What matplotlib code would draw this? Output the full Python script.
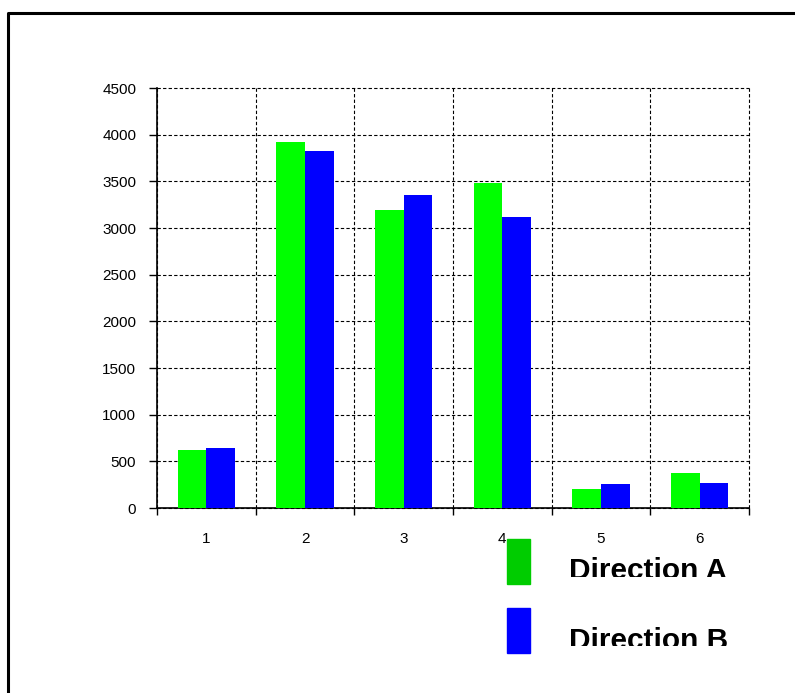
import matplotlib
matplotlib.use("Agg")
import matplotlib.pyplot as plt
import numpy as np
from matplotlib.patches import Rectangle
from matplotlib.lines import Line2D
from matplotlib.transforms import Bbox, TransformedBbox

plt.rcParams['font.family'] = ['Liberation Sans', 'DejaVu Sans']

categories = ['1', '2', '3', '4', '5', '6']
dir_a = [620, 3925, 3190, 3480, 200, 380]
dir_b = [645, 3830, 3355, 3115, 255, 265]
series_names = ['Direction A', 'Direction B']

W, H = 795, 693
fig = plt.figure(figsize=(W / 100, H / 100), dpi=100)
ax = fig.add_axes([157 / W, 1 - 508 / H, 592 / W, 420 / H])

x = np.arange(1, len(categories) + 1)
bw = 0.29
ax.bar(x - bw / 2, dir_a, bw, color='#00ff00', zorder=3)
ax.bar(x + bw / 2, dir_b, bw, color='#0000ff', zorder=3)

ax.set_xlim(0.5, len(categories) + 0.5)
ax.set_ylim(0, 4500)
ax.set_yticks(np.arange(0, 4501, 500))

# boundaries carry the ticks and grid, centres carry the labels
ax.set_xticks(np.arange(0.5, len(categories) + 1, 1))
ax.set_xticklabels([])
ax.set_xticks(x, minor=True)
ax.set_xticklabels(categories, minor=True)
ax.tick_params(axis='x', which='major', direction='out', length=5, width=1)
ax.tick_params(axis='x', which='minor', length=0, pad=17, labelsize=11)
ax.tick_params(axis='y', direction='out', length=6, width=1, pad=9, labelsize=11)

ax.grid(True, which='major', color='black', linestyle=(0, (3, 2)), linewidth=0.8, zorder=1)
ax.set_axisbelow(True)
for gl in ax.get_xgridlines() + ax.get_ygridlines():
    gl.set_clip_on(False)
for s in ['top', 'right']:
    ax.spines[s].set_visible(False)
for s in ['left', 'bottom']:
    ax.spines[s].set_linewidth(1.2)

# outer frame line along top and left
fig.add_artist(Line2D([7.5 / W, 7.5 / W, 1.0], [0.0, 1 - 12.5 / H, 1 - 12.5 / H],
                      transform=fig.transFigure, color='black', linewidth=2.2))

# legend swatches and labels
swatches = [(507, 539, '#00cc00'), (507, 608, '#0000ff')]
labels = [(569, 579, 577), (569, 649, 646)]
for (sx, sy, col), (tx, ty, clip_y), name in zip(swatches, labels, series_names):
    fig.add_artist(Rectangle((sx / W, 1 - (sy + 45) / H), 23 / W, 45 / H,
                             transform=fig.transFigure, color=col, zorder=5))
    t = fig.text(tx / W, 1 - ty / H, name, fontsize=21.5, fontweight='bold',
                 va='baseline', ha='left', zorder=5)
    t.set_clip_box(TransformedBbox(Bbox([[0, 1 - clip_y / H], [1, 1]]), fig.transFigure))
    t.set_clip_on(True)

fig.savefig('out.png', dpi=100)
